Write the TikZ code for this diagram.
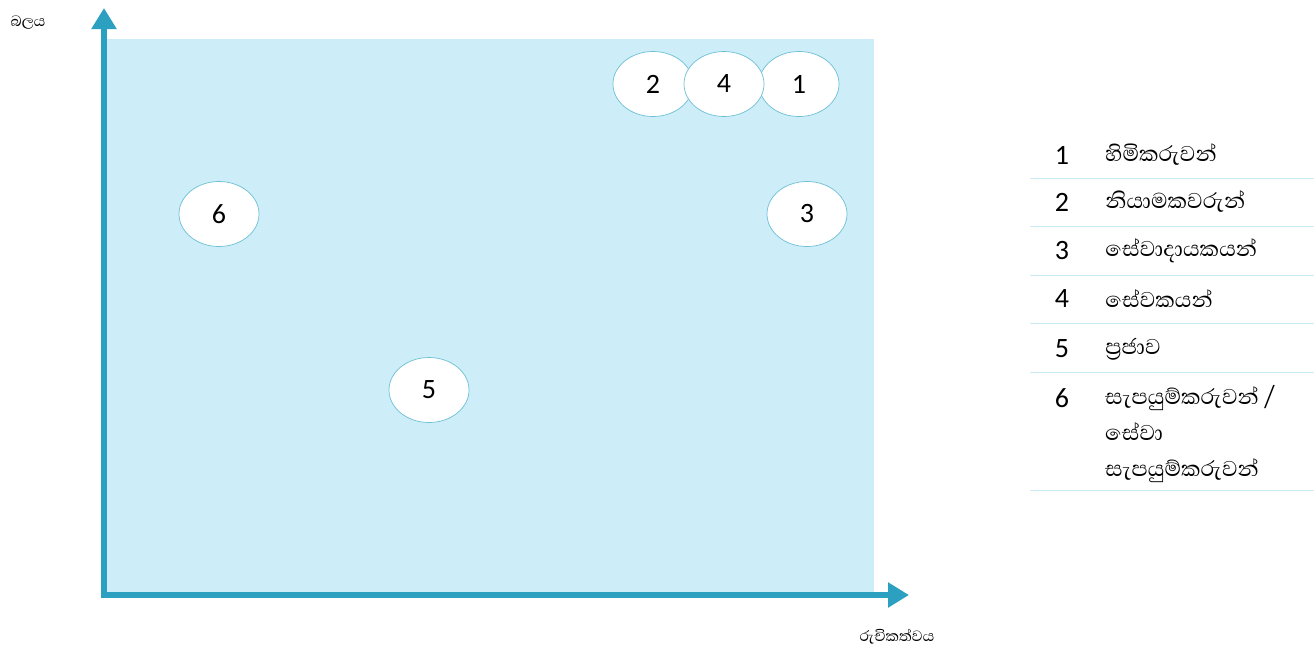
\documentclass[tikz,border=0pt]{standalone}
\usepackage{fontspec}
\setmainfont{Carlito}
\newfontfamily\sinhala[Script=Sinhala]{Abhaya Libre}
\usetikzlibrary{shapes.geometric, positioning, arrows.meta}
\usepackage{xcolor}
\definecolor{axisblue}{RGB}{43,160,192}
\definecolor{panelblue}{RGB}{205,237,248}
\definecolor{rimblue}{RGB}{108,192,214}
\definecolor{ruleblue}{RGB}{200,234,245}

\begin{document}
\begin{tikzpicture}[x=1pt, y=-1pt]

% Define styles
\tikzstyle{stake} = [ellipse, draw=rimblue, line width=0.7pt, fill=white, minimum width=80pt, minimum height=65pt, inner sep=0pt, font=\fontsize{28}{30}\selectfont]
\tikzstyle{axis} = [axisblue, line width=6pt, {Triangle[length=21pt, width=24pt]}-{Triangle[length=21pt, width=24pt]}]
\tikzstyle{legnum} = [minimum width=30pt, inner sep=0pt, text centered, font=\fontsize{28}{30}\selectfont]
\tikzstyle{legtext} = [inner sep=0pt, align=left, font=\sinhala\fontsize{27.5}{36}\selectfont]
\tikzstyle{legrule} = [ruleblue, line width=1pt]
\tikzstyle{axlabel} = [inner sep=0pt, font=\sinhala\fontsize{19}{22}\selectfont]

\useasboundingbox (0,0) rectangle (1314,649);

% Background panel
\fill[panelblue] (107,39) rectangle (874,592);

% Axes
\coordinate (origin) at (104,595);
\coordinate (ytip) at (104,8);
\coordinate (xtip) at (909,595);
\draw[axis] (ytip) -- (origin) -- (xtip);
\node[axlabel] (power) at (28,23) {බලය};
\node[axlabel] (interest) at (897,637) {රුචිකත්වය};

% Stakeholders
\node[stake] (regulators) at (653,84) {2};
\node[stake] (owners) at (799,84) {1};
\node[stake] (staff) at (724,84) {4};
\node[stake] (suppliers) at (219,214) {6};
\node[stake] (clients) at (807,214) {3};
\node[stake] (community) at (429,390) {5};

% Legend
\node[legnum] (l1) at (1062,155) {1};
\node[legtext, right=28pt of l1] (t1) {හිමිකරුවන්};
\node[legnum] (l2) at (1062,202) {2};
\node[legtext, right=28pt of l2] (t2) {නියාමකවරුන්};
\node[legnum] (l3) at (1062,251) {3};
\node[legtext, right=28pt of l3] (t3) {සේවාදායකයන්};
\node[legnum] (l4) at (1062,299) {4};
\node[legtext, right=28pt of l4] (t4) {සේවකයන්};
\node[legnum] (l5) at (1062,349) {5};
\node[legtext, right=28pt of l5] (t5) {ප්‍රජාව};
\node[legnum] (l6) at (1062,398) {6};
\node[legtext, anchor=west] (t6) at (1105,434) {සැපයුම්කරුවන් /\\සේවා\\සැපයුම්කරුවන්};

% Legend rules
\coordinate (r0) at (1030,178);
\coordinate (r1) at (1030,226);
\coordinate (r2) at (1030,275);
\coordinate (r3) at (1030,323);
\coordinate (r4) at (1030,372);
\coordinate (r5) at (1030,490);
\draw[legrule] (r0) -- ++(284,0);
\draw[legrule] (r1) -- ++(284,0);
\draw[legrule] (r2) -- ++(284,0);
\draw[legrule] (r3) -- ++(284,0);
\draw[legrule] (r4) -- ++(284,0);
\draw[legrule] (r5) -- ++(284,0);

\end{tikzpicture}
\end{document}
